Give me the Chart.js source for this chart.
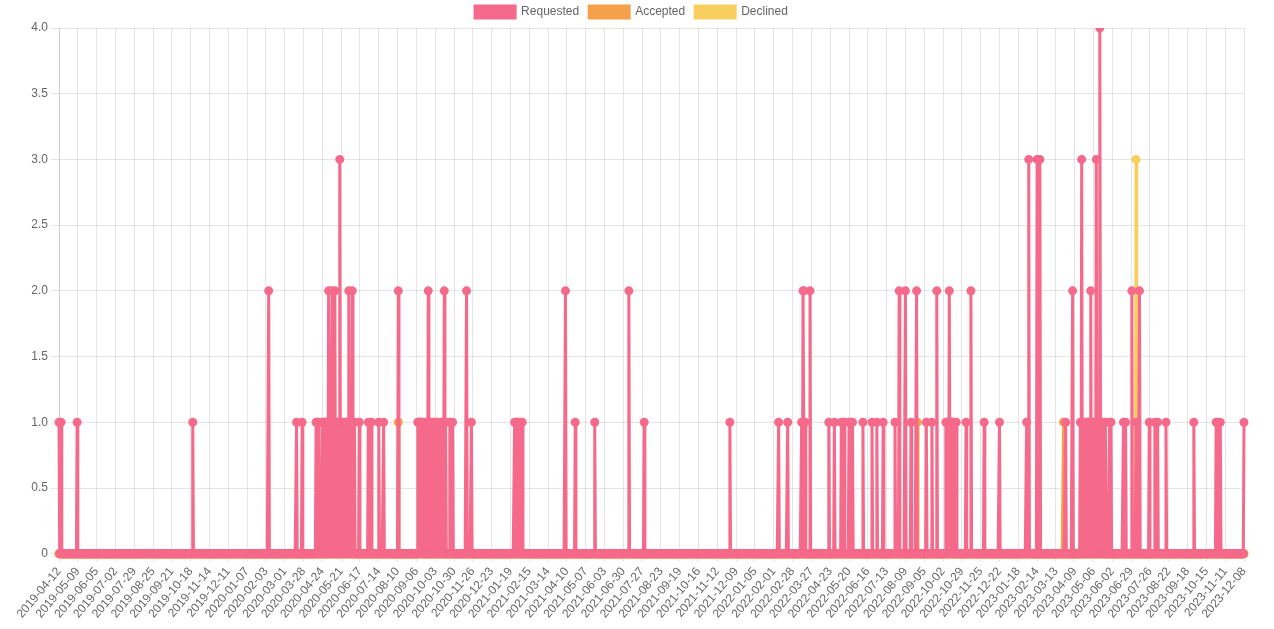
<!DOCTYPE html>
<html>
<head>
<meta charset="utf-8">
<script src="https://cdn.jsdelivr.net/npm/chart.js@4"></script>
<style>
  body { margin: 0; background: #fff; }
  #wrap { width: 1274px; height: 629px; }
</style>
</head>
<body>
<div id="wrap"><canvas id="lineCanvas"></canvas></div>
<script>
// one label per day
const firstDay = '2019-04-12';
const lastDay = '2023-12-08';

// days (offset from firstDay) that had something, and how many
const requestedDays = [0, 3, 26, 192, 301, 341, 349, 369, 371, 373,
    378, 380, 381, 383, 385, 387, 388, 390, 392, 393, 395, 396, 398, 399, 401, 403, 405, 406, 408, 410, 411, 413, 414, 416, 418, 419, 421, 423, 424,
    431, 444, 448, 459, 466, 487,
    515, 516, 517, 519, 520, 522, 524, 527, 530, 532, 534, 537, 539, 541, 544, 547, 549, 551, 553, 555, 561, 565,
    585, 592, 654, 656, 657, 659, 661, 663, 665, 727, 741, 769, 818, 840, 963,
    1033, 1046, 1066, 1068, 1069, 1071, 1078, 1105, 1113, 1123, 1125, 1127, 1134, 1136, 1139, 1154, 1167, 1174, 1183,
    1200, 1206, 1215, 1223, 1231, 1245, 1253, 1260, 1273, 1275, 1276, 1278, 1280, 1282, 1283, 1285, 1288,
    1302, 1309, 1328, 1350, 1389, 1392, 1404, 1408, 1445, 1455,
    1466, 1468, 1470, 1471, 1473, 1475, 1477, 1479, 1481, 1483, 1484, 1486, 1489, 1491, 1492, 1494, 1495, 1497, 1498,
    1502, 1508, 1510, 1528, 1531, 1540, 1546, 1551, 1565, 1573, 1577, 1589, 1629, 1661, 1664, 1667, 1701];
const requestedCounts = [1, 1, 1, 1, 2, 1, 1, 1, 1, 1,
    1, 1, 1, 1, 1, 2, 1, 1, 2, 1, 1, 2, 1, 1, 1, 3, 1, 1, 1, 1, 1, 1, 1, 2, 1, 1, 2, 1, 1,
    1, 1, 1, 1, 1, 2,
    1, 1, 1, 1, 1, 1, 1, 1, 2, 1, 1, 1, 1, 1, 1, 1, 1, 1, 2, 1, 1, 1,
    2, 1, 1, 1, 1, 1, 1, 1, 1, 2, 1, 1, 2, 1, 1,
    1, 1, 1, 2, 2, 1, 2, 1, 1, 1, 1, 1, 1, 1, 1, 1, 1, 1, 1,
    1, 2, 2, 1, 2, 1, 1, 2, 1, 1, 1, 2, 1, 1, 1, 1, 1,
    1, 2, 1, 1, 1, 3, 3, 3, 1, 2,
    1, 3, 1, 1, 1, 1, 1, 1, 2, 1, 1, 1, 3, 1, 1, 4, 1, 1, 1,
    1, 1, 1, 1, 1, 2, 1, 2, 1, 1, 1, 1, 1, 1, 1, 1, 1];

const acceptedDays = [448, 487, 1232, 1442];
const acceptedCounts = [1, 1, 1, 1];

const declinedDays = [1546];
const declinedCounts = [3];

const labels = [];
let d = new Date(firstDay + 'T00:00:00Z');
const end = new Date(lastDay + 'T00:00:00Z');
while (d <= end) {
    labels.push(d.toISOString().slice(0, 10));
    d = new Date(d.getTime() + 86400000);
}

const daily = (days, counts) => {
    const out = labels.map(() => 0);
    days.forEach((day, i) => { out[day] = counts[i]; });
    return out;
}

const lineCanvas = document.getElementById('lineCanvas').getContext('2d');

const serie = (label, color, data) => ({
    label: label,
    data: data,
    borderColor: color,
    backgroundColor: color,
    pointBackgroundColor: color,
    pointBorderColor: color,
    borderWidth: 3,
    pointRadius: 3,
    tension: 0
});

new Chart(lineCanvas, {
    type: 'line',
    data: {
        labels: labels,
        datasets: [
            serie('Requested', '#f5698a', daily(requestedDays, requestedCounts)),
            serie('Accepted', '#f5a04b', daily(acceptedDays, acceptedCounts)),
            serie('Declined', '#f8cf5f', daily(declinedDays, declinedCounts))
        ]
    },
    options: {
        responsive: true,
        maintainAspectRatio: false,
        animation: false,
        layout: {
            padding: { left: 19, right: 30, top: -4, bottom: 5 }
        },
        plugins: {
            legend: {
                position: 'top',
                labels: { color: '#666', font: { size: 12 } }
            },
            tooltip: { enabled: false }
        },
        scales: {
            x: {
                ticks: { color: '#666', maxRotation: 50, autoSkip: true, autoSkipPadding: 0, maxTicksLimit: 64 },
                grid: { color: 'rgba(0,0,0,0.1)' }
            },
            y: {
                beginAtZero: true,
                max: 4,
                ticks: { color: '#666', stepSize: 0.5 },
                grid: { color: 'rgba(0,0,0,0.1)' },
                afterFit: (scale) => { scale.width = 40; }
            }
        }
    }
});
</script>
</body>
</html>
